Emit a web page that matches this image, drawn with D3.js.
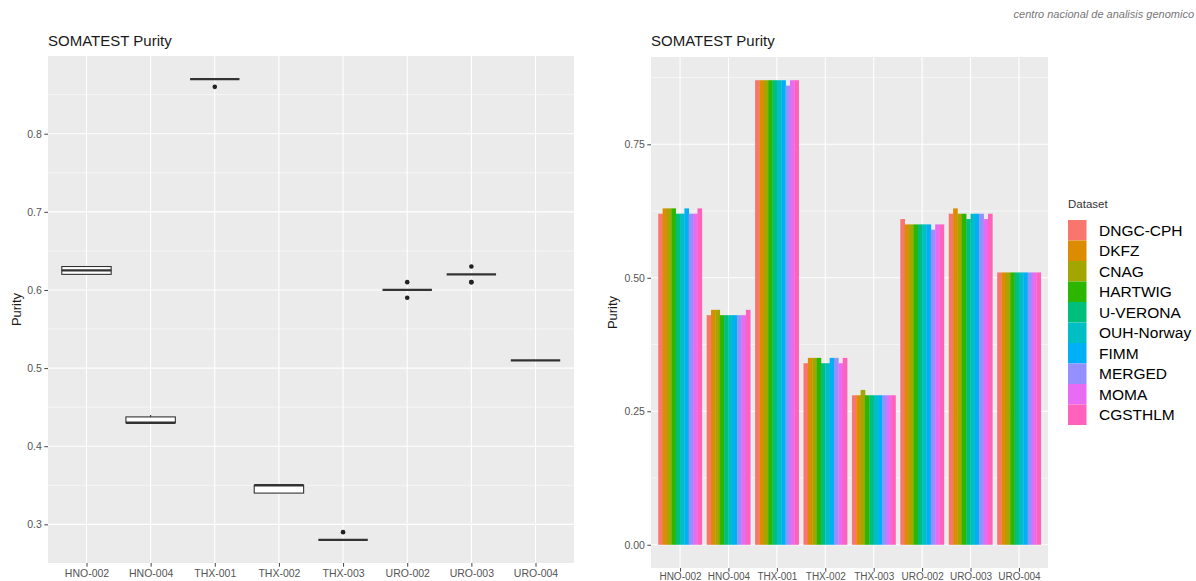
<!DOCTYPE html>
<html>
<head>
<meta charset="utf-8">
<script src="https://cdn.jsdelivr.net/npm/d3@7"></script>
<style>
  html, body { margin: 0; padding: 0; background: #fff; }
  svg { display: block; }
  text { font-family: "Liberation Sans", Arial, sans-serif; }
</style>
</head>
<body>
<svg id="chart" width="1196" height="581"></svg>
<script>
// Samples on the x axis
const samples = ["HNO-002", "HNO-004", "THX-001", "THX-002", "THX-003", "URO-002", "URO-003", "URO-004"];

// Sequencing centres / pipelines (dodged bars, legend order)
const datasets = ["DNGC-CPH", "DKFZ", "CNAG", "HARTWIG", "U-VERONA", "OUH-Norway", "FIMM", "MERGED", "MOMA", "CGSTHLM"];
const datasetColors = ["#F8766D", "#DB8C00", "#A3A500", "#2DB600", "#00BF7D", "#00BFC4", "#00B0F6", "#9590FF", "#E76BF3", "#FF62BC"];

// Purity estimate per sample, one value per dataset (same order as `datasets`)
const purityHNO002 = [0.62, 0.63, 0.63, 0.63, 0.62, 0.62, 0.63, 0.62, 0.62, 0.63];
const purityHNO004 = [0.43, 0.44, 0.44, 0.43, 0.43, 0.43, 0.43, 0.43, 0.43, 0.44];
const purityTHX001 = [0.87, 0.87, 0.87, 0.87, 0.87, 0.87, 0.87, 0.86, 0.87, 0.87];
const purityTHX002 = [0.34, 0.35, 0.35, 0.35, 0.34, 0.34, 0.35, 0.35, 0.34, 0.35];
const purityTHX003 = [0.28, 0.28, 0.29, 0.28, 0.28, 0.28, 0.28, 0.28, 0.28, 0.28];
const purityURO002 = [0.61, 0.60, 0.60, 0.60, 0.60, 0.60, 0.60, 0.59, 0.60, 0.60];
const purityURO003 = [0.62, 0.63, 0.62, 0.62, 0.61, 0.62, 0.62, 0.62, 0.61, 0.62];
const purityURO004 = [0.51, 0.51, 0.51, 0.51, 0.51, 0.51, 0.51, 0.51, 0.51, 0.51];

// Tick values
const boxTicks = [0.3, 0.4, 0.5, 0.6, 0.7, 0.8];
const barTicks = [0.00, 0.25, 0.50, 0.75];

const purityBySample = [purityHNO002, purityHNO004, purityTHX001, purityTHX002,
                        purityTHX003, purityURO002, purityURO003, purityURO004];

const svg = d3.select("#chart");
const PANEL_BG = "#EBEBEB";
const TEXT_DARK = "#1a1a1a";
const TICK_TEXT = "#555";

// ---------- shared helpers ----------
function drawPanel(g, x, y, x0, x1, y0, y1, majorY, minorY) {
  g.append("rect").attr("x", x0).attr("y", y0).attr("width", x1 - x0).attr("height", y1 - y0)
    .attr("fill", PANEL_BG);
  g.selectAll(".minor").data(minorY).join("line")
    .attr("x1", x0).attr("x2", x1).attr("y1", d => y(d)).attr("y2", d => y(d))
    .attr("stroke", "#fff").attr("stroke-width", 0.55);
  g.selectAll(".majorY").data(majorY).join("line")
    .attr("x1", x0).attr("x2", x1).attr("y1", d => y(d)).attr("y2", d => y(d))
    .attr("stroke", "#fff").attr("stroke-width", 1.1);
  g.selectAll(".majorX").data(samples).join("line")
    .attr("x1", d => x(d)).attr("x2", d => x(d)).attr("y1", y0).attr("y2", y1)
    .attr("stroke", "#fff").attr("stroke-width", 1.1);
}

function styleAxis(sel) {
  sel.select(".domain").remove();
  sel.selectAll(".tick line").attr("stroke", "#444").attr("stroke-width", 1);
  sel.selectAll(".tick text").attr("fill", TICK_TEXT).attr("font-size", 10.5)
    .attr("font-family", "Liberation Sans, Arial, sans-serif");
}

function midpoints(ticks) {
  const out = [];
  for (let i = 0; i < ticks.length - 1; i++) out.push((ticks[i] + ticks[i + 1]) / 2);
  return out;
}

// ---------- left: box plot ----------
{
  const X0 = 48, X1 = 574, Y0 = 56, Y1 = 563;
  const g = svg.append("g");
  const allVals = purityBySample.flat();
  const [mn, mx] = d3.extent(allVals);
  const pad = (mx - mn) * 0.05;
  const y = d3.scaleLinear().domain([mn - pad, mx + pad]).range([Y1, Y0]);
  const x = d3.scalePoint().domain(samples).range([X0, X1]).padding(0.6);
  const boxW = x.step() * 0.77;

  const minor = [0.25, ...midpoints(boxTicks), 0.85].filter(v => v >= y.domain()[0] && v <= y.domain()[1]);
  drawPanel(g, x, y, X0, X1, Y0, Y1, boxTicks, minor);

  const stats = samples.map((s, i) => {
    const v = purityBySample[i].slice().sort(d3.ascending);
    const q1 = d3.quantileSorted(v, 0.25), med = d3.quantileSorted(v, 0.5), q3 = d3.quantileSorted(v, 0.75);
    const iqr = q3 - q1, eps = 1e-9;
    const lo = q1 - 1.5 * iqr - eps, hi = q3 + 1.5 * iqr + eps;
    const inside = v.filter(d => d >= lo && d <= hi);
    return { s, q1, med, q3, wLo: d3.min(inside), wHi: d3.max(inside), out: v.filter(d => d < lo || d > hi) };
  });

  const box = g.selectAll(".box").data(stats).join("g");
  box.append("line")
    .attr("x1", d => x(d.s)).attr("x2", d => x(d.s))
    .attr("y1", d => y(d.q3)).attr("y2", d => y(d.wHi))
    .attr("stroke", "#333").attr("stroke-width", 1.1);
  box.append("line")
    .attr("x1", d => x(d.s)).attr("x2", d => x(d.s))
    .attr("y1", d => y(d.q1)).attr("y2", d => y(d.wLo))
    .attr("stroke", "#333").attr("stroke-width", 1.1);
  box.append("rect")
    .attr("x", d => x(d.s) - boxW / 2).attr("width", boxW)
    .attr("y", d => y(d.q3)).attr("height", d => Math.max(0, y(d.q1) - y(d.q3)))
    .attr("fill", "#fff").attr("stroke", "#333").attr("stroke-width", 1.1);
  box.append("line")
    .attr("x1", d => x(d.s) - boxW / 2).attr("x2", d => x(d.s) + boxW / 2)
    .attr("y1", d => y(d.med)).attr("y2", d => y(d.med))
    .attr("stroke", "#333").attr("stroke-width", 2.3);
  box.selectAll("circle").data(d => d.out.map(o => ({ s: d.s, v: o }))).join("circle")
    .attr("cx", d => x(d.s)).attr("cy", d => y(d.v)).attr("r", 2.3).attr("fill", "#222");

  g.append("g").attr("transform", `translate(${X0},0)`)
    .call(d3.axisLeft(y).tickValues(boxTicks).tickFormat(d3.format(".1f")).tickSize(3.7).tickPadding(2.5))
    .call(styleAxis);
  g.append("g").attr("transform", `translate(0,${Y1})`)
    .call(d3.axisBottom(x).tickSize(3.7).tickPadding(2.5))
    .call(styleAxis);

  g.append("text").attr("x", X0).attr("y", 45.5).attr("font-size", 15).attr("fill", TEXT_DARK)
    .text("SOMATEST Purity");
  g.append("text").attr("transform", `translate(20.5,${(Y0 + Y1) / 2}) rotate(-90)`)
    .attr("text-anchor", "middle").attr("font-size", 13).attr("fill", TEXT_DARK).text("Purity");
}

// ---------- right: dodged bar chart ----------
{
  const X0 = 651, X1 = 1048, Y0 = 57, Y1 = 568;
  const g = svg.append("g");
  const mx = d3.max(purityBySample.flat());
  const y = d3.scaleLinear().domain([-mx * 0.05, mx * 1.05]).range([Y1, Y0]);
  const x = d3.scalePoint().domain(samples).range([X0, X1]).padding(0.6);
  const inner = d3.scaleBand().domain(datasets).range([-x.step() * 0.45, x.step() * 0.45]);
  const color = d3.scaleOrdinal().domain(datasets).range(datasetColors);

  drawPanel(g, x, y, X0, X1, Y0, Y1, barTicks, [0.125, 0.375, 0.625, 0.875]);

  const bars = samples.flatMap((s, i) => datasets.map((ds, j) => ({ s, ds, v: purityBySample[i][j] })));
  g.selectAll(".bar").data(bars).join("rect")
    .attr("x", d => x(d.s) + inner(d.ds))
    .attr("width", inner.bandwidth() + 0.3)
    .attr("y", d => y(d.v))
    .attr("height", d => y(0) - y(d.v))
    .attr("fill", d => color(d.ds));

  g.append("g").attr("transform", `translate(${X0},0)`)
    .call(d3.axisLeft(y).tickValues(barTicks).tickFormat(d3.format(".2f")).tickSize(3.7).tickPadding(2.5))
    .call(styleAxis);
  g.append("g").attr("transform", `translate(0,${Y1})`)
    .call(d3.axisBottom(x).tickSize(3.7).tickPadding(0.8))
    .call(styleAxis)
    .call(a => a.selectAll(".tick text").attr("font-size", 10));

  g.append("text").attr("x", X0).attr("y", 45.5).attr("font-size", 15).attr("fill", TEXT_DARK)
    .text("SOMATEST Purity");
  g.append("text").attr("transform", `translate(617,${(Y0 + Y1) / 2}) rotate(-90)`)
    .attr("text-anchor", "middle").attr("font-size", 13).attr("fill", TEXT_DARK).text("Purity");

  // legend
  const lg = g.append("g").attr("transform", "translate(1068,0)");
  lg.append("text").attr("x", 0).attr("y", 208).attr("font-size", 11.5).attr("fill", "#333").text("Dataset");
  const keyH = 20.5, keyTop = 220;
  const item = lg.selectAll(".item").data(datasets).join("g")
    .attr("transform", (d, i) => `translate(0,${keyTop + i * keyH})`);
  item.append("rect").attr("width", 18.5).attr("height", keyH).attr("fill", d => color(d));
  item.append("text").attr("x", 31).attr("y", keyH / 2 + 5.6)
    .attr("font-family", "'Open Sans', sans-serif").attr("font-size", 15.5).attr("fill", "#000")
    .text(d => d);
}

// header credit line in the top-right corner
svg.append("text").attr("x", 1194).attr("y", 18).attr("text-anchor", "end")
  .attr("font-size", 11).attr("font-style", "italic").attr("fill", "#777")
  .text("centro nacional de analisis genomico");
</script>
</body>
</html>
